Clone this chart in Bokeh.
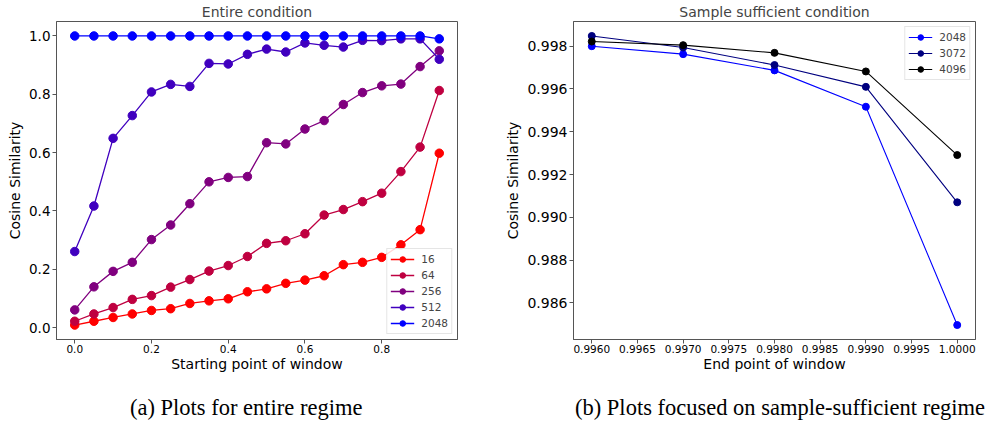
from bokeh.plotting import figure
from bokeh.models import FixedTicker, PrintfTickFormatter, Range1d, Div
from bokeh.layouts import row, column
from bokeh.embed import file_html
from bokeh.resources import INLINE

# ---------------- data: (a) entire regime ----------------
start_points = [0.0, 0.05, 0.1, 0.15, 0.2, 0.25, 0.3, 0.35, 0.4, 0.45,
                0.5, 0.55, 0.6, 0.65, 0.7, 0.75, 0.8, 0.85, 0.9, 0.95]
series_a_labels = ["16", "64", "256", "512", "2048"]
cos_16 = [0.009, 0.022, 0.035, 0.047, 0.059, 0.065, 0.083, 0.092, 0.099, 0.123,
          0.133, 0.152, 0.163, 0.178, 0.216, 0.224, 0.241, 0.284, 0.336, 0.598]
cos_64 = [0.022, 0.047, 0.069, 0.097, 0.110, 0.139, 0.165, 0.194, 0.213, 0.244,
          0.289, 0.298, 0.322, 0.386, 0.405, 0.432, 0.461, 0.535, 0.619, 0.813]
cos_256 = [0.061, 0.140, 0.193, 0.224, 0.302, 0.352, 0.425, 0.500, 0.515, 0.518,
           0.634, 0.630, 0.681, 0.710, 0.765, 0.806, 0.829, 0.835, 0.895, 0.949]
cos_512 = [0.261, 0.417, 0.649, 0.727, 0.808, 0.834, 0.827, 0.906, 0.904, 0.937,
           0.955, 0.945, 0.976, 0.968, 0.962, 0.985, 0.984, 0.990, 0.990, 0.920]
cos_2048 = [1.0, 1.0, 1.0, 1.0, 1.0, 1.0, 1.0, 1.0, 1.0, 1.0,
            1.0, 1.0, 1.0, 1.0, 1.0, 1.0, 1.0, 1.0, 1.0, 0.990]
series_a_values = [cos_16, cos_64, cos_256, cos_512, cos_2048]
series_a_colors = ["#FF0000", "#BF0040", "#80007F", "#4000BF", "#0000FF"]
a_xticks = [0.0, 0.2, 0.4, 0.6, 0.8]
a_yticks = [0.0, 0.2, 0.4, 0.6, 0.8, 1.0]

# ---------------- data: (b) sample-sufficient regime ----------------
end_points = [0.996, 0.997, 0.998, 0.999, 1.000]
series_b_labels = ["2048", "3072", "4096"]
cos_b_2048 = [0.99800, 0.99763, 0.99687, 0.99517, 0.98496]
cos_b_3072 = [0.99848, 0.99794, 0.99712, 0.99610, 0.99070]
cos_b_4096 = [0.99822, 0.99805, 0.99769, 0.99682, 0.99291]
series_b_values = [cos_b_2048, cos_b_3072, cos_b_4096]
series_b_colors = ["#0000FF", "#00007F", "#000000"]
b_xticks = [0.996, 0.9965, 0.997, 0.9975, 0.998, 0.9985, 0.999, 0.9995, 1.0]
b_yticks = [0.986, 0.988, 0.990, 0.992, 0.994, 0.996, 0.998]

captions = ["(a) Plots for entire regime", "(b) Plots focused on sample-sufficient regime"]

FONT = "DejaVu Sans"
FRAME = "#555555"


def padded(lo, hi):
    d = (hi - lo) * 0.05
    return Range1d(lo - d, hi + d)


def style(p, xfmt, yfmt, xticks, yticks, ytick_size, xtick_size):
    p.title.text_font = FONT
    p.title.text_font_size = "14px"
    p.title.text_font_style = "normal"
    p.title.align = "center"
    p.title.standoff = 3
    p.outline_line_color = FRAME
    p.outline_line_alpha = 1.0
    p.outline_line_width = 1
    p.xgrid.visible = False
    p.ygrid.visible = False
    for ax, fmt, ticks, size in ((p.xaxis[0], xfmt, xticks, xtick_size),
                                 (p.yaxis[0], yfmt, yticks, ytick_size)):
        ax.ticker = FixedTicker(ticks=ticks)
        ax.formatter = PrintfTickFormatter(format=fmt)
        ax.minor_tick_line_color = None
        ax.major_tick_out = 4
        ax.major_tick_in = 0
        ax.major_tick_line_color = FRAME
        ax.axis_line_color = FRAME
        ax.major_label_text_font = FONT
        ax.major_label_text_font_size = size
        ax.major_label_text_color = "black"
        ax.major_label_standoff = 2
        ax.axis_label_text_font = FONT
        ax.axis_label_text_font_size = "14px"
        ax.axis_label_text_font_style = "normal"
        ax.axis_label_text_color = "black"
        ax.axis_label_standoff = 3
    p.xaxis[0].major_label_standoff = 1
    p.xaxis[0].axis_label_standoff = 0
    lg = p.legend[0]
    lg.label_text_font = FONT
    lg.label_text_font_size = "10.5px"
    lg.border_line_color = "#cccccc"
    lg.border_line_width = 1
    lg.background_fill_alpha = 0.85
    lg.margin = 5
    lg.padding = 3
    lg.spacing = 2
    lg.glyph_height = 14
    lg.label_height = 14
    lg.glyph_width = 24
    lg.label_standoff = 7


# ---------------- figure (a) ----------------
pa = figure(width=500, height=388, output_backend="svg", toolbar_location=None,
            title="Entire condition",
            x_axis_label="Starting point of window", y_axis_label="Cosine Similarity",
            min_border_left=56, min_border_right=43, min_border_top=20, min_border_bottom=49)
all_a = [v for s in series_a_values for v in s]
pa.x_range = padded(min(start_points), max(start_points))
pa.y_range = padded(min(all_a), max(all_a))
for lbl, vals, col in zip(series_a_labels, series_a_values, series_a_colors):
    pa.line(start_points, vals, line_color=col, line_width=1.3, legend_label=lbl)
    pa.scatter(start_points, vals, size=8.5, fill_color=col, line_color=col, legend_label=lbl)
style(pa, "%.1f", "%.1f", a_xticks, a_yticks, "13.5px", "10.5px")
pa.legend[0].location = "bottom_right"

# ---------------- figure (b) ----------------
pb = figure(width=486, height=388, output_backend="svg", toolbar_location=None,
            title="Sample sufficient condition",
            x_axis_label="End point of window", y_axis_label="Cosine Similarity",
            min_border_left=73, min_border_right=11, min_border_top=20, min_border_bottom=49)
all_b = [v for s in series_b_values for v in s]
pb.x_range = padded(min(end_points), max(end_points))
pb.y_range = padded(min(all_b), max(all_b))
for lbl, vals, col in zip(series_b_labels, series_b_values, series_b_colors):
    pb.line(end_points, vals, line_color=col, line_width=1.1, legend_label=lbl)
    pb.scatter(end_points, vals, size=7, fill_color=col, line_color=col, legend_label=lbl)
style(pb, "%.4f", "%.3f", b_xticks, b_yticks, "14px", "10.5px")
pb.legend[0].location = "top_right"

span = ("position:absolute;top:7px;font-family:'Liberation Serif';font-size:22.5px;"
        "color:black;white-space:nowrap;line-height:1.15;")
cap_html = (f'<div style="position:relative;width:986px;height:40px;margin:0;padding:0;">'
            f'<span style="{span}left:130px;">{captions[0]}</span>'
            f'<span style="{span}left:575px;">{captions[1]}</span></div>')
caption_div = Div(text=cap_html, width=986, height=40, margin=0)

layout = column(row(pa, pb), caption_div)

open("out.html", "w").write(file_html(layout, INLINE))
